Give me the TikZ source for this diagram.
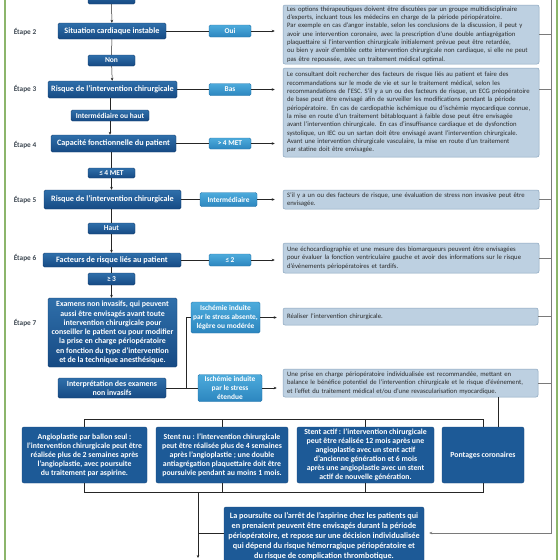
\documentclass[tikz,border=0pt]{standalone}
\usepackage{fontspec}
\setmainfont{Carlito}
\usetikzlibrary{arrows.meta}
\definecolor{dbA}{HTML}{2F6FAA}
\definecolor{dbB}{HTML}{164A84}
\definecolor{dbE}{HTML}{133F70}
\definecolor{lbA}{HTML}{4DABDC}
\definecolor{lbB}{HTML}{2C86BF}
\definecolor{lbE}{HTML}{2676AC}
\definecolor{tbF}{HTML}{BDD0E1}
\definecolor{tbE}{HTML}{8AA5BE}
\definecolor{txt}{HTML}{2B2B2B}
\definecolor{lab}{HTML}{3E4852}
\definecolor{grn}{HTML}{8CB56B}
\definecolor{gry}{HTML}{7A7A7A}
\definecolor{flat}{HTML}{1D5A97}
\definecolor{flatE}{HTML}{164A80}
\begin{document}
\begin{tikzpicture}[x=1pt,y=-1pt,
  dbox/.style={rounded corners=1.5pt, top color=dbA, bottom color=dbB, draw=dbE, line width=0.4pt,
    text=white, font=\fontsize{8.2}{9.4}\selectfont\bfseries, align=center, inner sep=0pt},
  sbox/.style={dbox, font=\fontsize{7.5}{8.6}\selectfont\bfseries},
  flatbox/.style={rounded corners=2pt, fill=flat, draw=flatE, line width=0.4pt,
    text=white, font=\fontsize{7.8}{9}\selectfont\bfseries, align=center, inner sep=0pt},
  lbox/.style={rounded corners=1.5pt, top color=lbA, bottom color=lbB, draw=lbE, line width=0.4pt,
    text=white, font=\fontsize{7.4}{8.8}\selectfont\bfseries, align=center, inner sep=0pt},
  tbox/.style={rounded corners=2pt, fill=tbF, draw=tbE, line width=0.5pt, text=txt,
    font=\fontsize{6.7}{8.3}\selectfont, align=left, inner xsep=4pt, inner ysep=1pt},
  etape/.style={text=lab, font=\fontsize{7.3}{8}\selectfont\bfseries, inner sep=0pt},
  conn/.style={draw=black!85, line width=0.5pt},
  arr/.style={conn, -{Stealth[length=3pt,width=2.6pt]}},
  gline/.style={draw=gry, line width=0.6pt},
]
\useasboundingbox (0,0) rectangle (560,560);
\fill[white] (0,0) rectangle (560,560);
% side borders
\draw[grn, line width=1.1pt] (5,0) -- (5,560);
\draw[grn, line width=1.1pt] (557,0) -- (557,560);

% ---------- main column ----------
\node[sbox, minimum width=47pt, minimum height=14pt] (non0) at (111.5,-3) {Non};
\node[dbox, minimum width=108pt, minimum height=16pt] (sit) at (112,31) {Situation cardiaque instable};
\node[sbox, minimum width=47pt, minimum height=11pt] (non1) at (111.5,60.5) {Non};
\node[dbox, minimum width=129pt, minimum height=17pt] (risk3) at (112.5,89.5) {Risque de l’intervention chirurgicale};
\node[sbox, minimum width=78pt, minimum height=11pt] (inter) at (110,115.5) {Intermédiaire ou haut};
\node[dbox, minimum width=125pt, minimum height=17pt] (cap) at (113.5,143.5) {Capacité fonctionnelle du patient};
\node[sbox, minimum width=47pt, minimum height=10pt] (le4) at (111.5,173) {≤\,4 MET};
\node[dbox, minimum width=137pt, minimum height=19pt] (risk5) at (112.5,199.5) {Risque de l’intervention chirurgicale};
\node[sbox, minimum width=47pt, minimum height=11pt] (haut) at (111.5,228.5) {Haut};
\node[dbox, minimum width=138pt, minimum height=14pt] (fact) at (112,260) {Facteurs de risque liés au patient};
\node[sbox, minimum width=47pt, minimum height=12pt] (ge3) at (111.5,279) {≥\,3};
\node[dbox, minimum width=129pt, minimum height=69pt, font=\fontsize{7.9}{9.3}\selectfont\bfseries] (exam) at (112.5,332.5)
  {Examens non invasifs, qui peuvent\\aussi être envisagés avant toute\\intervention chirurgicale pour\\conseiller le patient ou pour modifier\\la prise en charge périopératoire\\en fonction du type d’intervention\\et de la technique anesthésique.};
\node[dbox, minimum width=108pt, minimum height=20pt, font=\fontsize{7.9}{9}\selectfont\bfseries] (interp) at (112,388) {Interprétation des examens\\non invasifs};

% ---------- etapes ----------
\node[etape] (e2) at (25,32) {Étape 2};
\node[etape] (e3) at (25,89) {Étape 3};
\node[etape] (e4) at (25,145) {Étape 4};
\node[etape] (e5) at (25,200) {Étape 5};
\node[etape] (e6) at (25,258) {Étape 6};
\node[etape] (e7) at (25,323) {Étape 7};

% ---------- light boxes ----------
\node[lbox, minimum width=42pt, minimum height=12pt] (oui) at (230,31) {Oui};
\node[lbox, minimum width=42pt, minimum height=12pt] (bas) at (230,89.5) {Bas};
\node[lbox, minimum width=42pt, minimum height=11pt] (met) at (230,143.5) {>\,4 MET};
\node[lbox, minimum width=57pt, minimum height=14pt] (interm) at (228.5,199.5) {Intermédiaire};
\node[lbox, minimum width=42pt, minimum height=12pt] (le2) at (230,260) {≤\,2};
\node[lbox, minimum width=69pt, minimum height=31pt] (isch1) at (225.5,317.5) {Ischémie induite\\par le stress absente,\\légère ou modérée};
\node[lbox, minimum width=64pt, minimum height=27pt] (isch2) at (230,388) {Ischémie induite\\par le stress\\étendue};

% ---------- text boxes ----------
\node[tbox, text width=248pt, minimum height=59pt] (t1) at (411,34.5)
  {Les options thérapeutiques doivent être discutées par un groupe multidisciplinaire\\
   d’experts, incluant tous les médecins en charge de la période périopératoire.\\
   Par exemple en cas d’angor instable, selon les conclusions de la discussion, il peut y\\
   avoir une intervention coronaire, avec la prescription d’une double antiagrégation\\
   plaquettaire si l’intervention chirurgicale initialement prévue peut être retardée,\\
   ou bien y avoir d’emblée cette intervention chirurgicale non cardiaque, si elle ne peut\\
   pas être repoussée, avec un traitement médical optimal.};
\node[tbox, text width=248pt, minimum height=89pt] (t2) at (411,112.5)
  {Le consultant doit rechercher des facteurs de risque liés au patient et faire des\\
   recommandations sur le mode de vie et sur le traitement médical, selon les\\
   recommandations de l’ESC. S’il y a un ou des facteurs de risque, un ECG préopératoire\\
   de base peut être envisagé afin de surveiller les modifications pendant la période\\
   périopératoire. En cas de cardiopathie ischémique ou d’ischémie myocardique connue,\\
   la mise en route d’un traitement bêtabloquant à faible dose peut être envisagée\\
   avant l’intervention chirurgicale. En cas d’insuffisance cardiaque et de dysfonction\\
   systolique, un IEC ou un sartan doit être envisagé avant l’intervention chirurgicale.\\
   Avant une intervention chirurgicale vasculaire, la mise en route d’un traitement\\
   par statine doit être envisagée.};
\node[tbox, text width=248pt, minimum height=19pt] (t3) at (411,199.5)
  {S’il y a un ou des facteurs de risque, une évaluation de stress non invasive peut être\\
   envisagée.};
\node[tbox, text width=248pt, minimum height=30pt] (t4) at (411,258)
  {Une échocardiographie et une mesure des biomarqueurs peuvent être envisagées\\
   pour évaluer la fonction ventriculaire gauche et avoir des informations sur le risque\\
   d’événements périopératoires et tardifs.};
\node[tbox, text width=247pt, minimum height=17pt] (t5) at (410.5,316.5)
  {Réaliser l’intervention chirurgicale.};
\node[tbox, text width=247pt, minimum height=28pt] (t6) at (410.5,383)
  {Une prise en charge périopératoire individualisée est recommandée, mettant en\\
   balance le bénéfice potentiel de l’intervention chirurgicale et le risque d’événement,\\
   et l’effet du traitement médical et/ou d’une revascularisation myocardique.};

% ---------- bottom boxes ----------
\node[flatbox, minimum width=125pt, minimum height=56pt] (b1) at (84.5,455)
  {Angioplastie par ballon seul :\\l’intervention chirurgicale peut être\\réalisée plus de 2 semaines après\\l’angioplastie, avec poursuite\\du traitement par aspirine.};
\node[flatbox, minimum width=132pt, minimum height=56pt] (b2) at (222,455)
  {Stent nu : l’intervention chirurgicale\\peut être réalisée plus de 4 semaines\\après l’angioplastie ; une double\\antiagrégation plaquettaire doit être\\poursuivie pendant au moins 1 mois.};
\node[flatbox, minimum width=137pt, minimum height=56pt] (b3) at (365.5,455)
  {Stent actif : l’intervention chirurgicale\\peut être réalisée 12 mois après une\\angioplastie avec un stent actif\\d’ancienne génération et 6 mois\\après une angioplastie avec un stent\\actif de nouvelle génération.};
\node[flatbox, minimum width=82pt, minimum height=56pt] (b4) at (483,455) {Pontages coronaires};
\node[flatbox, minimum width=200pt, minimum height=58pt, font=\fontsize{8.2}{10}\selectfont\bfseries] (pours) at (324,536)
  {La poursuite ou l’arrêt de l’aspirine chez les patients qui\\en prenaient peuvent être envisagés durant la période\\périopératoire, et repose sur une décision individualisée\\qui dépend du risque hémorragique périopératoire et\\du risque de complication thrombotique.};

% ---------- coordinates ----------
\coordinate (gtop) at (551,0);
\coordinate (gbot) at (551,533);
\coordinate (j) at (186,0);
\coordinate (tbr) at (0,419);
\coordinate (bbr) at (0,492);
\coordinate (k) at (498,0);
\coordinate (bl) at (198,492);
\coordinate (bend) at (198,558);

% ---------- main column connectors ----------
\draw[arr] (non0) -- (sit);
\draw[conn] (sit) -- (non1);
\draw[arr] (non1) -- (risk3);
\draw[conn] (risk3.south -| inter) -- (inter);
\draw[arr] (inter) -- (cap.north -| inter);
\draw[conn] (cap.south -| le4) -- (le4);
\draw[arr] (le4) -- (risk5.north -| le4);
\draw[conn] (risk5.south -| haut) -- (haut);
\draw[arr] (haut) -- (fact.north -| haut);
\draw[conn] (fact.south -| ge3) -- (ge3);
\draw[arr] (ge3) -- (exam.north -| ge3);

% ---------- horizontal branches ----------
\draw[conn] (sit) -- (oui);
\draw[conn] (risk3) -- (bas);
\draw[conn] (cap) -- (met);
\draw[conn] (risk5) -- (interm);
\draw[conn] (fact) -- (le2);
\draw[arr, shorten >=8pt] (oui.east) -- (oui.east -| t1.west);
\draw[arr, shorten >=8pt] (bas.east) -- (bas.east -| t2.west);
\draw[arr, shorten >=8pt] (met.east) -- (met.east -| t2.west);
\draw[arr, shorten >=8pt] (interm.east) -- (interm.east -| t3.west);
\draw[arr, shorten >=8pt] (le2.east) -- (le2.east -| t4.west);
\draw[arr, shorten >=6pt] (isch1.east) -- (isch1.east -| t5.west);
\draw[arr, shorten >=6pt] (isch2.east) -- (isch2.east -| t6.west);
\draw[conn] (interp) -- (isch2);
\draw[conn] (interp.east -| j) |- (isch1.west);

% ---------- gray collector ----------
\draw[gline] (t1.east) -- (t1.east -| gtop);
\draw[gline] (t2.east |- bas) -- (bas -| gtop);
\draw[gline] (t3.east) -- (t3.east -| gtop);
\draw[gline] (t4.east) -- (t4.east -| gtop);
\draw[gline] (t5.east) -- (t5.east -| gtop);
\draw[gline] (t6.east) -- (t6.east -| gtop);
\draw[gline, -{Stealth[length=3pt,width=2.6pt]}, shorten >=5pt] (gtop) -- (gbot) -- (pours.east |- gbot);

% ---------- revascularisation brackets ----------
\draw[conn] (t6.south -| k) -- (b4.north -| k);
\draw[conn] (b1.north) -- (b1.north |- tbr) -- (b4.north |- tbr) -- (b4.north);
\draw[conn] (b2.north) -- (b2.north |- tbr);
\draw[conn] (b3.north) -- (b3.north |- tbr);
\draw[conn] (b1.south) -- (b1.south |- bbr) -- (b4.south |- bbr) -- (b4.south);
\draw[conn] (b2.south) -- (b2.south |- bbr);
\draw[conn] (b3.south) -- (b3.south |- bbr);
\draw[arr] (bl) -- (bend);
\draw[conn] (bl |- gbot) -- (pours.west |- gbot);
\end{tikzpicture}
\end{document}
